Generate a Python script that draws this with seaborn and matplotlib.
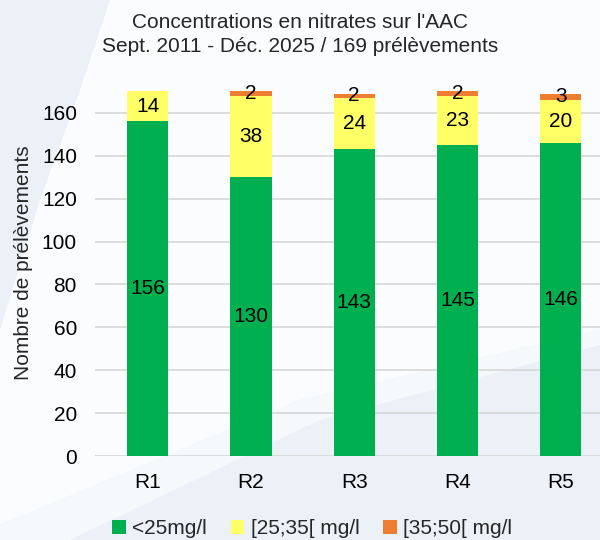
import numpy as np
import matplotlib
matplotlib.use("Agg")
import matplotlib.pyplot as plt
import seaborn as sns
from matplotlib.patches import Polygon

# data
regions = ["R1", "R2", "R3", "R4", "R5"]
low = [156, 130, 143, 145, 146]       # <25mg/l
mid = [14, 38, 24, 23, 20]            # [25;35[ mg/l
high = [0, 2, 2, 2, 3]                # [35;50[ mg/l
series_names = ["<25mg/l", "[25;35[ mg/l", "[35;50[ mg/l"]
colors = ["#00b050", "#ffff66", "#ed7d31"]

sns.set_theme(style="white")
plt.rcParams['font.family'] = ['Liberation Sans', 'DejaVu Sans']

W, H = 600, 540
fig = plt.figure(figsize=(W / 100, H / 100), dpi=100)
fig.patch.set_facecolor("#ecf1f8")


def px(points):
    # pixel coords (y from top) -> figure fraction
    return [[x / W, 1 - y / H] for x, y in points]


# soft background swooshes
fig.patches.append(Polygon(px([(110, 0), (600, 0), (600, 330), (300, 400), (0, 525),
                               (0, 330), (40, 200), (80, 90)]),
                           closed=True, transform=fig.transFigure,
                           facecolor="#fafcfe", edgecolor="none", zorder=-1))
fig.patches.append(Polygon(px([(0, 540), (0, 525), (300, 400), (600, 330), (600, 345),
                               (320, 420), (70, 540)]),
                           closed=True, transform=fig.transFigure,
                           facecolor="#f6f9fc", edgecolor="none", zorder=-1))

ax = fig.add_axes([95 / W, 1 - 456 / H, 505 / W, 386 / H])
ax.set_facecolor("none")

bottoms = np.zeros(len(regions))
for vals, name, c in zip([low, mid, high], series_names, colors):
    sns.barplot(x=regions, y=vals, bottom=bottoms, color=c, saturation=1,
                width=0.4, linewidth=0, edgecolor="none",
                label=name, ax=ax, zorder=3)
    bottoms = bottoms + np.array(vals)

for cont, vals in zip(ax.containers, [low, mid, high]):
    labels = [str(v) if v > 0 else "" for v in vals]
    ax.bar_label(cont, labels=labels, label_type="center", fontsize=15, color="black")

ax.set_xlim(-0.51, 4.38)
ax.set_ylim(0, 180)
ax.set_yticks(range(0, 161, 20))
ax.yaxis.grid(True, color="#d9d9d9", linewidth=1.3, zorder=0)
for s in ax.spines.values():
    s.set_visible(False)
ax.tick_params(axis="both", length=0, labelsize=15, colors="black")
ax.tick_params(axis="x", pad=12)
ax.tick_params(axis="y", pad=13)
ax.set_xlabel("")
ax.set_ylabel("Nombre de prélèvements", fontsize=15, labelpad=6)

fig.text(0.5, 1 - 23 / H, "Concentrations en nitrates sur l'AAC",
         ha="center", va="center", fontsize=15)
fig.text(0.5, 1 - 47 / H, "Sept. 2011 - Déc. 2025 / 169 prélèvements",
         ha="center", va="center", fontsize=15)

ax.legend(loc="center", bbox_to_anchor=(0.43, (456 - 529) / 386), ncol=3, frameon=False,
          fontsize=15, handlelength=0.65, handleheight=0.65, handletextpad=0.3,
          columnspacing=1.15)

fig.savefig("out.png", dpi=100, facecolor=fig.get_facecolor())
